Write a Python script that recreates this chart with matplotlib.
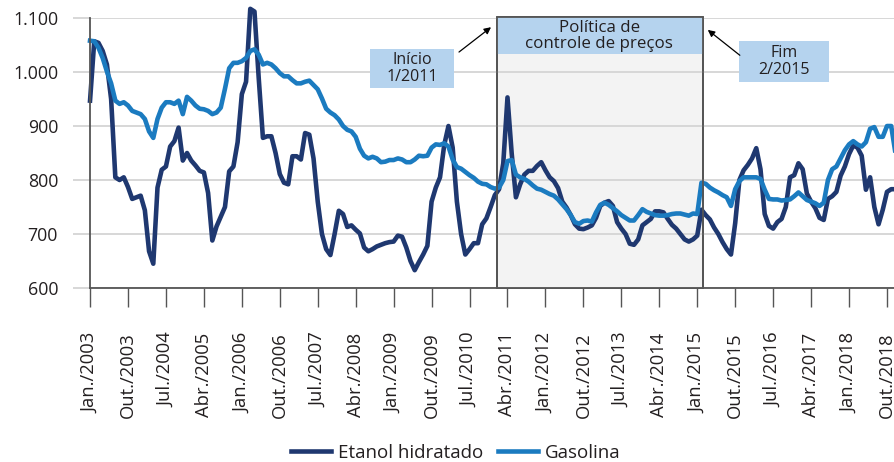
import matplotlib
matplotlib.use("Agg")
import matplotlib.pyplot as plt
from matplotlib.patches import Rectangle
from matplotlib.ticker import FuncFormatter, FixedLocator

plt.rcParams["font.family"] = ["Open Sans", "DejaVu Sans"]

# Monthly series, Jan/2003 onwards
etanol_hidratado = [
    947, 1057, 1054, 1039, 1014, 950, 805, 800, 805, 787, 765, 768,
    771, 744, 668, 645, 786, 819, 825, 862, 872, 897, 836, 850,
    836, 827, 817, 814, 776, 688, 714, 732, 750, 816, 825, 870,
    959, 982, 1117, 1112, 989, 878, 881, 881, 850, 811, 795, 792,
    844, 844, 838, 887, 884, 840, 760, 700, 672, 661, 700, 743,
    737, 713, 716, 708, 701, 675, 668, 672, 677, 680, 683, 685,
    686, 697, 695, 675, 650, 633, 648, 662, 678, 760, 786, 805,
    865, 900, 860, 760, 700, 662, 672, 683, 683, 718, 729, 750,
    772, 783, 831, 953, 849, 768, 792, 810, 817, 817, 826, 833,
    818, 805, 798, 785, 760, 749, 735, 718, 710, 709, 712, 716,
    730, 752, 758, 761, 752, 722, 710, 700, 682, 680, 690, 716,
    722, 728, 742, 742, 740, 728, 717, 710, 700, 690, 686, 690,
    697, 745, 735, 727, 712, 700, 685, 672, 662, 720, 800, 818,
    828, 840, 859, 820, 737, 715, 710, 722, 728, 750, 805, 809,
    831, 820, 775, 760, 748, 730, 726, 765, 770, 778, 808, 825,
    848, 864, 860, 845, 782, 805, 750, 718, 745, 778, 783, 783,
]
gasolina = [
    1058, 1057, 1045, 1026, 1001, 979, 947, 941, 944, 938, 928, 925,
    922, 913, 890, 878, 913, 934, 944, 944, 941, 947, 922, 954,
    947, 938, 932, 931, 928, 922, 925, 934, 969, 1007, 1017, 1017,
    1020, 1026, 1039, 1042, 1032, 1014, 1017, 1014, 1007, 998, 992, 992,
    985, 979, 979, 982, 984, 976, 968, 951, 932, 925, 920, 912,
    900, 893, 890, 880, 858, 845, 840, 843, 840, 833, 834, 837,
    837, 840, 838, 833, 833, 838, 845, 844, 845, 860, 866, 865,
    868, 862, 838, 824, 821, 815, 809, 804, 797, 793, 792, 787,
    784, 786, 800, 835, 837, 810, 805, 802, 797, 790, 784, 782,
    778, 774, 771, 764, 755, 746, 735, 722, 719, 724, 725, 723,
    740, 754, 758, 754, 748, 742, 735, 730, 725, 725, 735, 746,
    741, 738, 735, 734, 734, 735, 737, 738, 738, 736, 734, 738,
    737, 795, 793, 786, 781, 777, 772, 768, 752, 783, 798, 805,
    805, 805, 805, 802, 782, 765, 764, 764, 762, 763, 764, 770,
    777, 770, 763, 760, 757, 752, 758, 800, 820, 825, 840, 855,
    866, 872, 866, 862, 870, 895, 898, 880, 880, 900, 900, 850,
]
tick_labels = [
    "Jan./2003", "Out./2003", "Jul./2004", "Abr./2005", "Jan./2006",
    "Out./2006", "Jul./2007", "Abr./2008", "Jan./2009", "Out./2009",
    "Jul./2010", "Abr./2011", "Jan./2012", "Out./2012", "Jul./2013",
    "Abr./2014", "Jan./2015", "Out./2015", "Jul./2016", "Abr./2017",
    "Jan./2018", "Out./2018",
]
y_ticks = [600, 700, 800, 900, 1000, 1100]

# policy period: Jan/2011 .. Feb/2015 as month indexes
policy_start = 96
policy_end = 145

NAVY = "#1f3870"
BLUE = "#1b7bc0"
BOX = "#b5d3ee"
TEXT = "#231f20"
GRID = "#d4d4d4"
SPINE = "#555555"

months = list(range(len(etanol_hidratado)))

fig = plt.figure(figsize=(8.95, 4.62), dpi=100)
ax = fig.add_axes([0.1006, 0.3766, 0.8994, 0.5844])

ax.set_xlim(0, 190.9)
ax.set_ylim(600, 1100)

# shaded policy window with its header band
span_top = 1102
ax.add_patch(Rectangle((policy_start + 0.6, 600), policy_end - policy_start - 0.2,
                       span_top - 600, facecolor="#f3f3f3", edgecolor=SPINE,
                       lw=1.3, zorder=1, clip_on=False))
ax.add_patch(Rectangle((policy_start + 0.6, 1033), policy_end - policy_start - 0.2,
                       span_top - 1033, facecolor=BOX, edgecolor="none",
                       zorder=4, clip_on=False))
ax.plot([policy_start + 0.6, policy_start + 0.6, policy_end + 0.4, policy_end + 0.4],
        [600, span_top, span_top, 600], color=SPINE, lw=1.3, zorder=4.5,
        clip_on=False)
ax.text((policy_start + policy_end) / 2 + 0.3, 1066, "Política de\ncontrole de preços",
        ha="center", va="center", fontsize=12.2, color=TEXT, linespacing=1.0,
        zorder=5)

ax.plot(months, etanol_hidratado, color=NAVY, lw=3.3, zorder=3,
        clip_on=False, solid_joinstyle="round", label="Etanol hidratado")
ax.plot(months, gasolina, color=BLUE, lw=3.3, zorder=3.1,
        clip_on=False, solid_joinstyle="round", label="Gasolina")

# start / end callouts
ax.add_patch(Rectangle((66.4, 970.4), 19.9, 72.2, facecolor=BOX,
                       edgecolor="none", zorder=4))
ax.text(76.35, 1006, "Início\n1/2011", ha="center", va="center",
        fontsize=11.5, color=TEXT, linespacing=1.1, zorder=5)
ax.annotate("", xy=(95.1, 1083), xytext=(87.5, 1037),
            arrowprops=dict(arrowstyle="-|>", color="black", lw=0.9,
                            mutation_scale=10, shrinkA=0, shrinkB=0),
            zorder=5, annotation_clip=False)

ax.add_patch(Rectangle((153.9, 981.5), 21.3, 75.9, facecolor=BOX,
                       edgecolor="none", zorder=4))
ax.text(164.55, 1019.5, "Fim\n2/2015", ha="center", va="center",
        fontsize=11.5, color=TEXT, linespacing=1.1, zorder=5)
ax.annotate("", xy=(146.5, 1078), xytext=(154.1, 1031),
            arrowprops=dict(arrowstyle="-|>", color="black", lw=0.9,
                            mutation_scale=10, shrinkA=0, shrinkB=0),
            zorder=5, annotation_clip=False)

# axes styling
ax.set_axisbelow("line")
ax.yaxis.set_major_locator(FixedLocator(y_ticks))
ax.yaxis.set_major_formatter(FuncFormatter(lambda v, p: f"{int(v):,}".replace(",", ".")))
ax.grid(axis="y", color=GRID, lw=1.3, zorder=1.5)
ax.tick_params(axis="y", length=12, width=1.3, color=GRID, pad=11,
               labelsize=12.8, labelcolor=TEXT)

ax.set_xticks(range(0, 190, 9))
ax.set_xticklabels(tick_labels, rotation=90, va="top", ha="center")
ax.tick_params(axis="x", length=14, width=1.0, color=SPINE, pad=18,
               labelsize=13.2, labelcolor=TEXT)

for side in ("top", "right"):
    ax.spines[side].set_visible(False)
for side in ("left", "bottom"):
    ax.spines[side].set_color(SPINE)
    ax.spines[side].set_linewidth(1.3)
    ax.spines[side].set_zorder(4)

fig.legend(*ax.get_legend_handles_labels(), loc="center", ncol=2,
           bbox_to_anchor=(456 / 895, 9 / 462), frameon=False,
           fontsize=13.5, handlelength=2.1, handletextpad=0.4,
           columnspacing=0.8, labelcolor=TEXT)

fig.savefig("out.png", dpi=100)
